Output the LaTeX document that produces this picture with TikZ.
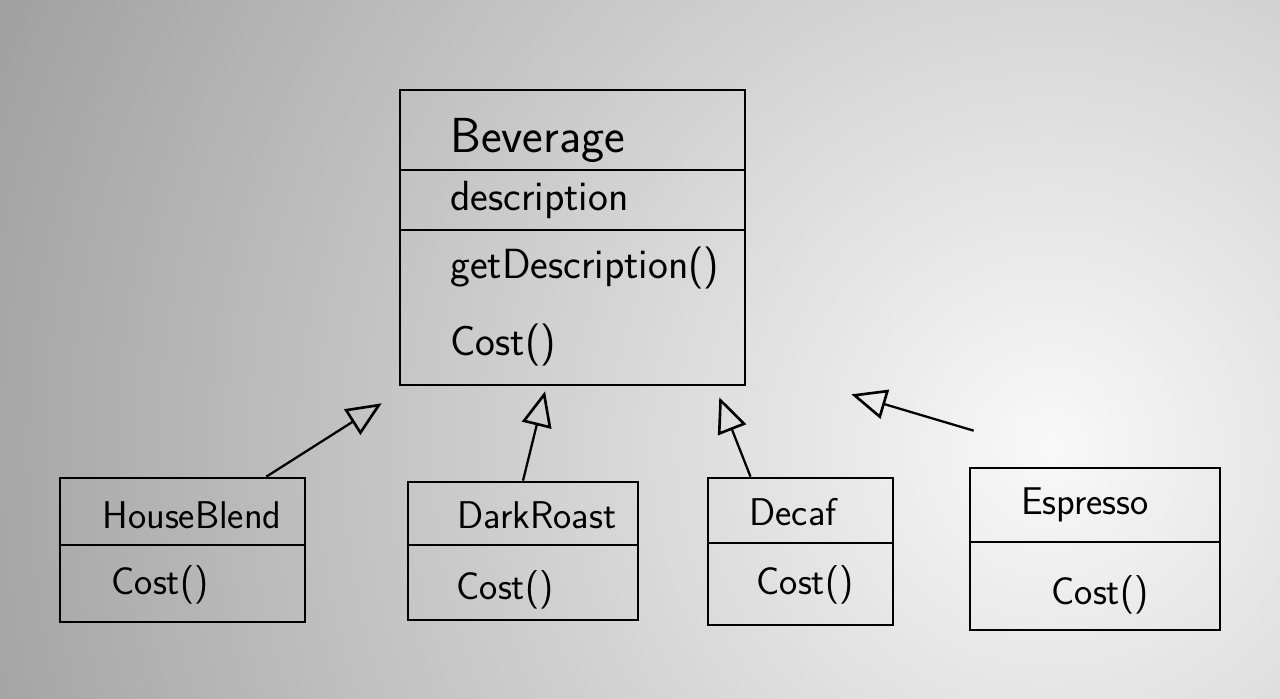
\documentclass[tikz,border=0pt]{standalone}
\usepackage{tikz}
\usetikzlibrary{arrows.meta}

\tikzset{
  cls/.style={draw, line width=1.5pt, inner sep=0pt},
  divider/.style={line width=1.5pt},
  txt/.style={font=\sffamily\fontsize{22}{26}\selectfont, inner sep=0pt},
  bigtxt/.style={txt, font=\sffamily\fontsize{24}{28}\selectfont},
  inherit/.style={line width=1.3pt, -{Triangle[open, length=0.7cm, width=0.6cm, line width=1.5pt]}},
}

\begin{document}
\begin{tikzpicture}
\useasboundingbox (0,0) rectangle (25.6,13.96);
% whiteboard
\begin{scope}
\clip (0,0) rectangle (25.6,13.96);
\shade[inner color=gray!5, outer color=gray!78] (21,5) circle (24cm);
\end{scope}

% Beverage
\node[cls, minimum width=6.9cm, minimum height=5.9cm] (bev) at (11.45,9.21) {};
\draw[divider] (bev.west |- 0,10.56) -- (bev.east |- 0,10.56);
\draw[divider] (bev.west |- 0,9.36) -- (bev.east |- 0,9.36);
\node[bigtxt, anchor=west, font=\sffamily\fontsize{28}{32}\selectfont] (bevname) at (9.0,11.16) {Beverage};
\node[bigtxt, anchor=west] (bevattr) at (9.0,9.96) {description};
\node[bigtxt, anchor=west] (bevget) at (9.0,8.6) {getDescription()};
\node[bigtxt, anchor=west] (bevcost) at (9.0,7.06) {Cost()};

% subclasses
\node[cls, minimum width=4.9cm, minimum height=2.88cm] (hb) at (3.65,2.96) {};
\draw[divider] (hb.west |- 0,3.06) -- (hb.east |- 0,3.06);
\node[txt] (hbname) at (3.84,3.66) {HouseBlend};
\node[txt] (hbcost) at (3.2,2.26) {Cost()};

\node[cls, minimum width=4.6cm, minimum height=2.76cm] (dr) at (10.46,2.94) {};
\draw[divider] (dr.west |- 0,3.06) -- (dr.east |- 0,3.06);
\node[txt] (drname) at (10.74,3.66) {DarkRoast};
\node[txt] (drcost) at (10.1,2.16) {Cost()};

\node[cls, minimum width=3.7cm, minimum height=2.94cm] (dc) at (16.01,2.93) {};
\draw[divider] (dc.west |- 0,3.1) -- (dc.east |- 0,3.1);
\node[txt] (dcname) at (15.86,3.72) {Decaf};
\node[txt] (dccost) at (16.1,2.26) {Cost()};

\node[cls, minimum width=5.0cm, minimum height=3.24cm] (es) at (21.9,2.98) {};
\draw[divider] (es.west |- 0,3.12) -- (es.east |- 0,3.12);
\node[txt] (esname) at (21.7,3.86) {Espresso};
\node[txt] (escost) at (22.0,2.06) {Cost()};

% inheritance
\draw[inherit] ([xshift=-0.8cm]hb.north east) -- ([shift={(-0.34,-0.34)}]bev.south west);
\draw[inherit] (dr.north) -- ([shift={(-0.55,-0.1)}]bev.south);
\draw[inherit] ([xshift=-1.0cm]dc.north) -- ([shift={(-0.54,-0.22)}]bev.south east);
\draw[inherit] ([shift={(0.1,0.72)}]es.north west) -- ([shift={(2.1,-0.16)}]bev.south east);
\end{tikzpicture}
\end{document}
